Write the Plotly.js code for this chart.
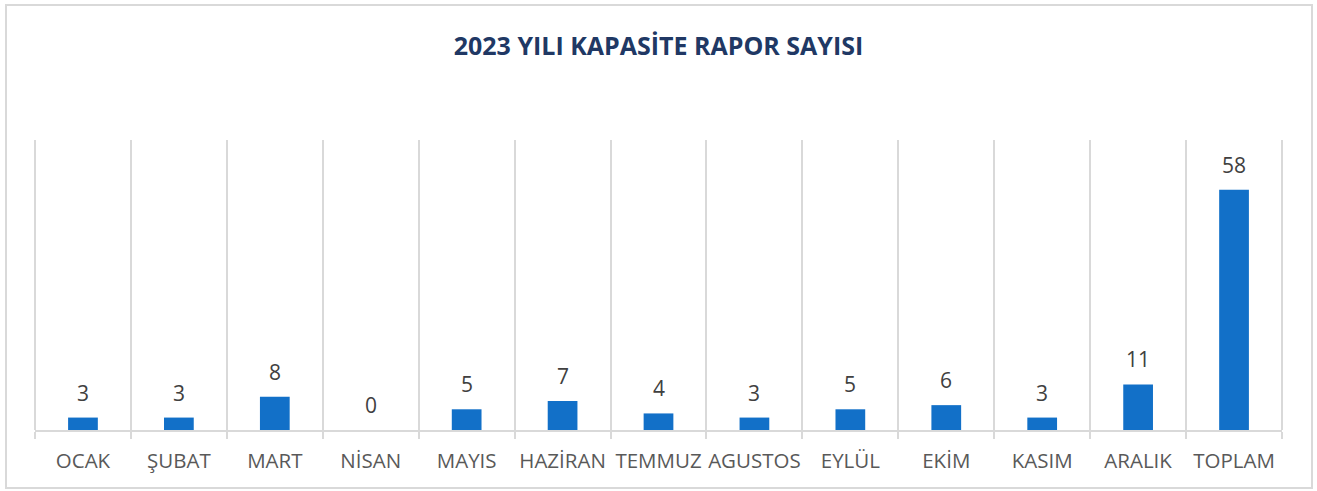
<!DOCTYPE html>
<html>
<head>
<meta charset="utf-8">
<script src="https://cdn.plot.ly/plotly-3.0.1.min.js"></script>
<style>
  body { margin: 0; background: #fff; }
  #chart { width: 1317px; height: 491px; }
  #frame { position: absolute; left: 5px; top: 4px; width: 1304px; height: 481px;
           border: 2px solid #d9d9d9; pointer-events: none; }
</style>
</head>
<body>
<div id="chart"></div>
<div id="frame"></div>
<script>
// 2023 kapasite rapor sayilari
var months = ['OCAK', 'ŞUBAT', 'MART', 'NİSAN', 'MAYIS', 'HAZİRAN', 'TEMMUZ',
              'AGUSTOS', 'EYLÜL', 'EKİM', 'KASIM', 'ARALIK', 'TOPLAM'];
var counts = [3, 3, 8, 0, 5, 7, 4, 3, 5, 6, 3, 11, 58];

var FONT = 'Open Sans, Arial, sans-serif';

var trace = {
  x: months,
  y: counts,
  type: 'bar',
  marker: { color: '#1270c8' },
  hoverinfo: 'x+y'
};

// value labels sitting a little above each bar
var labels = months.map(function (m, i) {
  return {
    x: m, y: counts[i], text: String(counts[i]),
    xref: 'x', yref: 'y', showarrow: false,
    yanchor: 'bottom', yshift: 9,
    font: { family: FONT, size: 21, color: '#404040' }
  };
});

// plotly skips gridlines at the very ends, so draw the outer two by hand
var edgeLines = [0, 1].map(function (px) {
  return {
    type: 'line', xref: 'paper', yref: 'paper',
    x0: px, x1: px, y0: 0, y1: 1,
    line: { color: '#d9d9d9', width: 2 }, layer: 'below'
  };
});

var layout = {
  width: 1317,
  height: 491,
  margin: { l: 35, r: 35, t: 140, b: 61 },
  paper_bgcolor: '#ffffff',
  plot_bgcolor: '#ffffff',
  bargap: 0.69,
  showlegend: false,
  title: {
    text: '<b>2023 YILI KAPASİTE RAPOR SAYISI</b>',
    x: 0.5, xanchor: 'center',
    y: 1 - 46 / 491, yref: 'container', yanchor: 'middle',
    font: { family: FONT, size: 25, color: '#203864' }
  },
  xaxis: {
    type: 'category',
    range: [-0.5, 12.5],
    tickson: 'boundaries',
    showgrid: true,
    gridcolor: '#d9d9d9',
    gridwidth: 2,
    showline: true,
    linecolor: '#d9d9d9',
    linewidth: 2,
    ticks: 'outside',
    ticklen: 7,
    tickwidth: 2,
    tickcolor: '#d9d9d9',
    tickangle: 0,
    ticklabelstandoff: 11,
    tickfont: { family: FONT, size: 20.5, color: '#595959' },
    zeroline: false
  },
  yaxis: {
    range: [0, 70],
    showgrid: false,
    zeroline: false,
    showline: false,
    showticklabels: false,
    ticks: ''
  },
  shapes: edgeLines,
  annotations: labels
};

Plotly.newPlot('chart', [trace], layout, { displayModeBar: false, staticPlot: true });
</script>
</body>
</html>
